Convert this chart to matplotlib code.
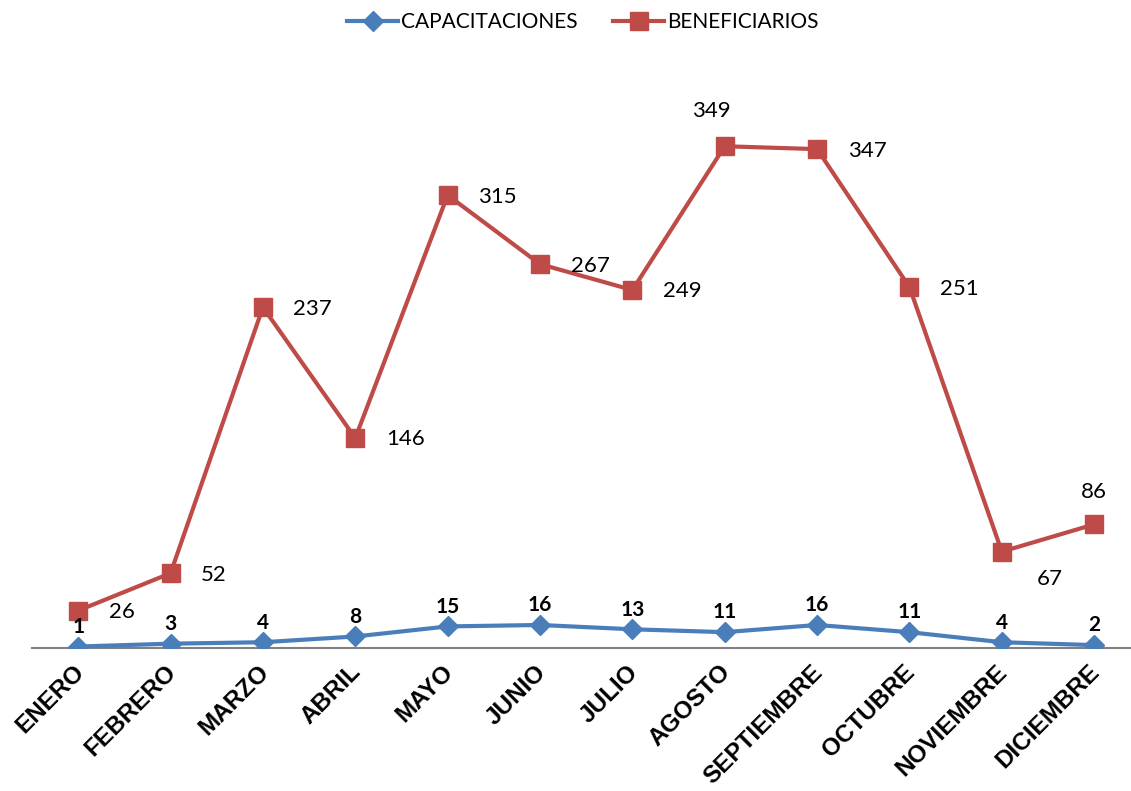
import matplotlib.pyplot as plt
from matplotlib.transforms import ScaledTranslation

plt.rcParams['font.family'] = ['Lato', 'DejaVu Sans']

meses = ['ENERO', 'FEBRERO', 'MARZO', 'ABRIL', 'MAYO', 'JUNIO', 'JULIO',
         'AGOSTO', 'SEPTIEMBRE', 'OCTUBRE', 'NOVIEMBRE', 'DICIEMBRE']
capacitaciones = [1, 3, 4, 8, 15, 16, 13, 11, 16, 11, 4, 2]
beneficiarios = [26, 52, 237, 146, 315, 267, 249, 349, 347, 251, 67, 86]

azul = '#4A7EBB'
rojo = '#BE4B48'

fig = plt.figure(figsize=(11.31, 7.91), dpi=100)
ax = fig.add_axes([0.0283, 0.1808, 0.980, 0.727])
x = list(range(len(meses)))

ax.plot(x, capacitaciones, color=azul, lw=3, marker='D', ms=10, label='CAPACITACIONES', zorder=3)
ax.plot(x, beneficiarios, color=rojo, lw=3, marker='s', ms=13, label='BENEFICIARIOS', zorder=3)

ax.set_xlim(-0.5, 11.5)
ax.set_ylim(0, 400)

for s in ['top', 'right', 'left']:
    ax.spines[s].set_visible(False)
ax.spines['bottom'].set_color('#808080')
ax.spines['bottom'].set_linewidth(1.5)
ax.set_yticks([])
ax.set_xticks(x)
ax.set_xticklabels(meses, rotation=45, ha='right', va='top', rotation_mode='anchor',
                   fontsize=17.5, fontweight='bold', family='Liberation Sans')
ax.tick_params(axis='x', length=0, pad=9)
desplaza = ScaledTranslation(-6 / 100, 0, fig.dpi_scale_trans)
for lbl in ax.get_xticklabels():
    lbl.set_transform(lbl.get_transform() + desplaza)

# etiquetas capacitaciones (encima, negrita)
for i, v in enumerate(capacitaciones):
    ax.annotate(str(v), (i, v), xytext=(0, 7), textcoords='offset points',
                ha='center', va='bottom', fontsize=15, fontweight='bold')

# etiquetas beneficiarios
offsets = {7: (-10, 18, 'center', 'bottom'), 10: (25, -20, 'left', 'center'),
           11: (0, 16, 'center', 'bottom')}
for i, v in enumerate(beneficiarios):
    dx, dy, ha, va = offsets.get(i, (22, -1, 'left', 'center'))
    ax.annotate(str(v), (i, v), xytext=(dx, dy), textcoords='offset points',
                ha=ha, va=va, fontsize=16)

fig.legend(*ax.get_legend_handles_labels(), loc='center', bbox_to_anchor=(583 / 1131, 0.972),
           ncol=2, frameon=False, fontsize=15, handlelength=2.45, columnspacing=1.7,
           handletextpad=0.15)

fig.savefig('out.png', dpi=100)
